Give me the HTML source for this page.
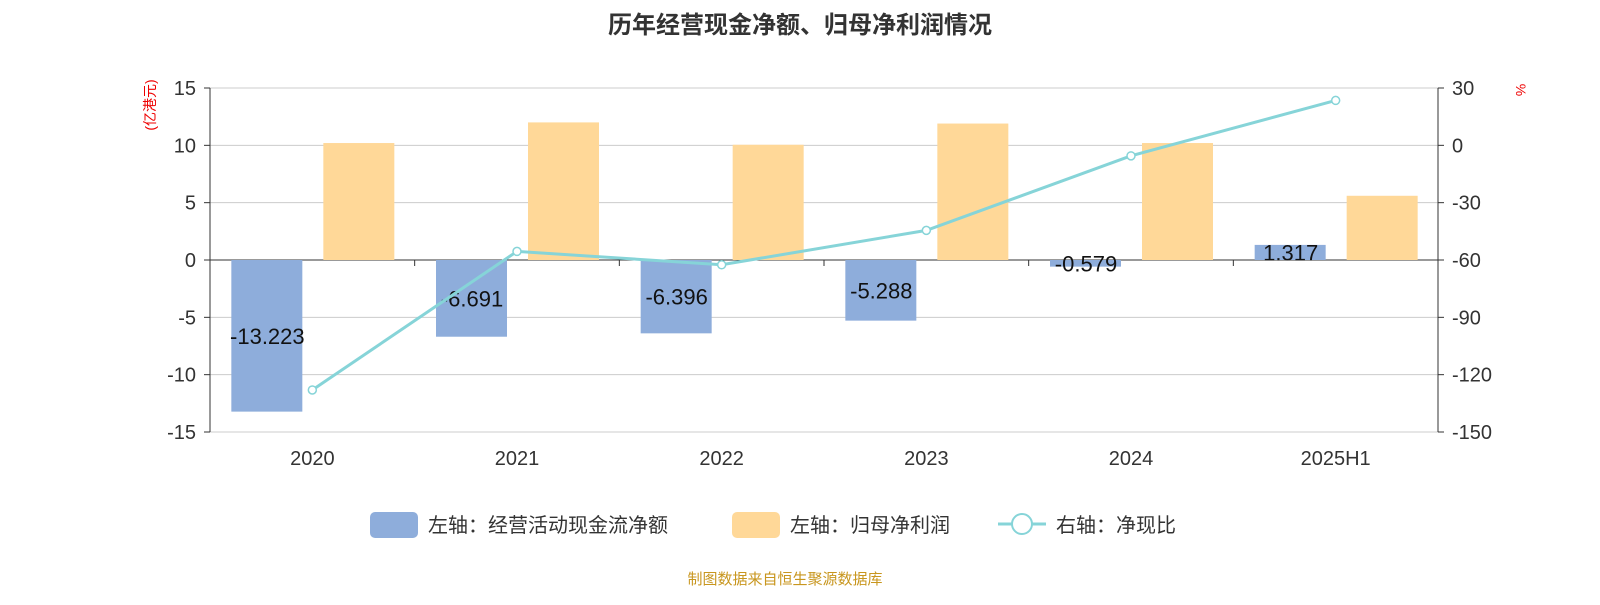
<!DOCTYPE html>
<html><head><meta charset="utf-8"><style>
body{margin:0;background:#fff;font-family:"Liberation Sans","Noto Sans CJK SC",sans-serif;}
svg text{font-family:"Liberation Sans","Noto Sans CJK SC",sans-serif;}
</style></head><body>
<svg id="c" width="1600" height="600" xmlns="http://www.w3.org/2000/svg">
<text x="800" y="33" text-anchor="middle" font-size="24" font-weight="bold" fill="#333">历年经营现金净额、归母净利润情况</text>
<text transform="translate(155,105) rotate(-90)" text-anchor="middle" font-size="14" fill="#e00">(亿港元)</text>
<text transform="translate(1516,90) rotate(90)" text-anchor="middle" font-size="14" fill="#e00">%</text>
<g id="grid"></g><g id="bars"></g><g id="line"></g><g id="axes"></g>
<g>
<rect x="370" y="512" width="48" height="26" rx="5" fill="#8eaddb"/>
<text x="428" y="532" font-size="20" fill="#333">左轴：经营活动现金流净额</text>
<rect x="732" y="512" width="48" height="26" rx="5" fill="#ffd898"/>
<text x="790" y="532" font-size="20" fill="#333">左轴：归母净利润</text>
<line x1="998" y1="524" x2="1046" y2="524" stroke="#86d4d8" stroke-width="3"/>
<circle cx="1022" cy="524" r="10" fill="#fff" stroke="#86d4d8" stroke-width="2"/>
<text x="1056" y="532" font-size="20" fill="#333">右轴：净现比</text>
</g>
<text x="785" y="584" text-anchor="middle" font-size="15" fill="#c8961e">制图数据来自恒生聚源数据库</text>
</svg>
<script>
const categories=["2020","2021","2022","2023","2024","2025H1"];
const cashFlow=[-13.223,-6.691,-6.396,-5.288,-0.579,1.317];
const netProfit=[10.2,12.0,10.05,11.9,10.2,5.6];
const ratio=[-128,-55.5,-62.5,-44.5,-5.5,23.5];
const leftTicks=[15,10,5,0,-5,-10,-15];
const rightTicks=[30,0,-30,-60,-90,-120,-150];
const NS="http://www.w3.org/2000/svg";
const X0=210,X1=1438,Y0=88,Y1=432;
const yL=v=>Y0+(15-v)/30*(Y1-Y0);
const yR=v=>Y0+(30-v)/180*(Y1-Y0);
const bw=(X1-X0)/categories.length;
const xc=i=>X0+bw*(i+0.5);
function mk(t,a,p){const e=document.createElementNS(NS,t);for(const k in a)e.setAttribute(k,a[k]);p.appendChild(e);return e;}
const grid=document.getElementById('grid'),bars=document.getElementById('bars'),line=document.getElementById('line'),axes=document.getElementById('axes');
leftTicks.forEach((v,i)=>{
 const g=mk('line',{x1:X0,x2:X1,y1:yL(v),y2:yL(v),stroke:v===0?'#333':'#ccc','stroke-width':1},grid);
 
 
 const t=mk('text',{x:X0-14,y:yL(v)+7,'text-anchor':'end','font-size':20,fill:'#333'},axes);t.textContent=v;
 
 
 mk('line',{x1:X0-6,x2:X0,y1:yL(v),y2:yL(v),stroke:'#333'},axes);
});
rightTicks.forEach(v=>{
 const t=mk('text',{x:X1+14,y:yR(v)+7,'font-size':20,fill:'#333'},axes);t.textContent=v;
 
 
 mk('line',{x1:X1,x2:X1+6,y1:yR(v),y2:yR(v),stroke:'#333'},axes);
});
mk('line',{x1:X0,x2:X0,y1:Y0,y2:Y1,stroke:'#333'},axes);
mk('line',{x1:X1,x2:X1,y1:Y0,y2:Y1,stroke:'#333'},axes);
for(let i=1;i<categories.length;i++)mk('line',{x1:X0+bw*i,x2:X0+bw*i,y1:yL(0),y2:yL(0)+6,stroke:'#333'},axes);
categories.forEach((c,i)=>{
 const t=mk('text',{x:xc(i),y:465,'text-anchor':'middle','font-size':20,fill:'#333'},axes);t.textContent=c;
 
 
 const v=cashFlow[i];const y=Math.min(yL(v),yL(0));const h=Math.abs(yL(v)-yL(0));
 const r=mk('rect',{x:xc(i)-81,y:y,width:71,height:h,fill:'#8eaddb'},bars);
 
 
 const p=netProfit[i];
 const r2=mk('rect',{x:xc(i)+11,y:yL(p),width:71,height:yL(0)-yL(p),fill:'#ffd898'},bars);
 
 
 const l=mk('text',{x:xc(i)-45,y:(yL(v)+yL(0))/2+8,'text-anchor':'middle','font-size':22,fill:'#111'},bars);l.textContent=v.toFixed(3);
 
 
});
const pts=ratio.map((v,i)=>(xc(i))+','+yR(v)).join(' ');
const pl=mk('polyline',{points:pts,fill:'none',stroke:'#86d4d8','stroke-width':3},line);


ratio.forEach((v,i)=>{
 const c=mk('circle',{cx:xc(i),cy:yR(v),r:4,fill:'#fff',stroke:'#86d4d8','stroke-width':1.5},line);
 
 
});
</script>
</body></html>
